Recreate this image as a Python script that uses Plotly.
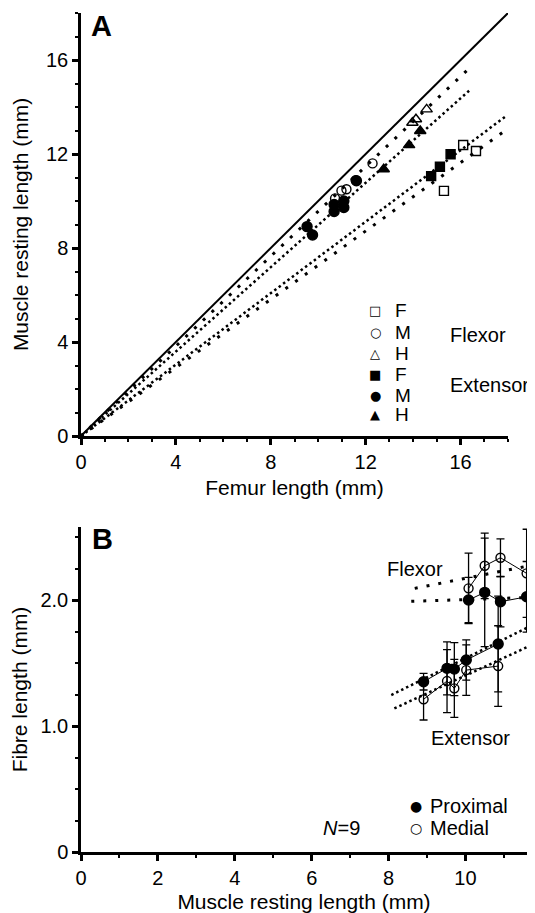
import plotly.graph_objects as go

# ---------------- Panel A data (femur length vs muscle resting length, mm) ----------------
flex_F_x = [16.11, 16.65, 15.30]
flex_F_y = [12.38, 12.13, 10.43]
flex_M_x = [10.71, 10.98, 11.19, 11.58, 12.29]
flex_M_y = [10.11, 10.44, 10.50, 10.89, 11.60]
flex_H_x = [13.97, 14.12, 14.57]
flex_H_y = [13.33, 13.48, 13.90]
ext_F_x = [14.76, 15.13, 15.58]
ext_F_y = [11.06, 11.46, 11.99]
ext_M_x = [9.53, 9.76, 10.67, 10.67, 11.08, 11.08, 11.61]
ext_M_y = [8.91, 8.55, 9.55, 9.85, 9.72, 10.00, 10.86]
ext_H_x = [12.76, 13.83, 14.30]
ext_H_y = [11.35, 12.38, 12.98]

# regressions through the origin (slope, x end) and the line of identity
fitA_slope = [0.956, 0.898, 0.760, 0.727]
fitA_xend = [16.46, 16.36, 17.91, 18.0]
fitA_flexor = [True, False, False, True]
identity_end = 18

# ---------------- Panel B data (muscle resting length vs fibre length) ----------------
ext_x = [8.91, 9.52, 9.71, 10.02, 10.85]
ext_prox_y = [1.352, 1.458, 1.452, 1.524, 1.651]
ext_prox_err = [0.066, 0.21, 0.21, 0.16, 0.38]
ext_med_y = [1.212, 1.357, 1.299, 1.444, 1.476]
ext_med_err = [0.164, 0.25, 0.23, 0.20, 0.32]
flx_x = [10.08, 10.50, 10.91, 11.59]
flx_prox_y = [2.000, 2.061, 1.987, 2.026]
flx_prox_err = [0.18, 0.43, 0.20, 0.28]
flx_med_y = [2.093, 2.272, 2.336, 2.212]
flx_med_err = [0.28, 0.26, 0.15, 0.35]

# regression line end points: (x0, y0, x1, y1)
fitB_ext_prox = [8.07, 1.246, 11.62, 1.783]
fitB_ext_med = [8.15, 1.140, 11.62, 1.629]
fitB_flx_med = [8.68, 2.093, 11.62, 2.270]
fitB_flx_prox = [8.59, 1.990, 11.62, 2.020]

# ---------------- layout geometry ----------------
# the page body has an 8 px margin, so the figure is drawn 8 px in from the window edge
OFF = 8
W, H = 535 - OFF, 913 - OFF
L, R, T, B = 81 - OFF, 0, 13 - OFF, 61
FONT = "Liberation Sans, Arial, Helvetica, sans-serif"
TITLE_SIZE = 21


def pxx(px):  # window pixel -> paper x
    return (px - OFF - L) / (W - L - R)


def pxy(py):  # window pixel -> paper y
    return (H - B - (py - OFF)) / (H - T - B)


fig = go.Figure()

FLEX_DASH = "3px,9px"
EXT_DASH = "2.5px,3px"

# identity line
fig.add_trace(go.Scatter(x=[0, identity_end], y=[0, identity_end], mode="lines",
                         line=dict(color="black", width=2), xaxis="x", yaxis="y",
                         showlegend=False, hoverinfo="skip"))
for s, xe, fl in zip(fitA_slope, fitA_xend, fitA_flexor):
    fig.add_trace(go.Scatter(x=[0, xe], y=[0, s * xe], mode="lines",
                             line=dict(color="black", width=3 if fl else 2.5,
                                       dash=FLEX_DASH if fl else EXT_DASH),
                             xaxis="x", yaxis="y", showlegend=False, hoverinfo="skip"))


def pts(x, y, sym, size, ax="x", ay="y"):
    fig.add_trace(go.Scatter(x=x, y=y, mode="markers", xaxis=ax, yaxis=ay,
                             marker=dict(symbol=sym, size=size, color="black",
                                         line=dict(color="black", width=1.4)),
                             showlegend=False, cliponaxis=False))


pts(flex_F_x, flex_F_y, "square-open", 9)
pts(flex_M_x, flex_M_y, "circle-open", 9)
pts(flex_H_x, flex_H_y, "triangle-up-open", 10)
pts(ext_F_x, ext_F_y, "square", 9)
pts(ext_M_x, ext_M_y, "circle", 10)
pts(ext_H_x, ext_H_y, "triangle-up", 10)

# ---------------- Panel B traces ----------------
for seg, fl in [(fitB_ext_prox, False), (fitB_ext_med, False),
                (fitB_flx_med, True), (fitB_flx_prox, True)]:
    fig.add_trace(go.Scatter(x=[seg[0], seg[2]], y=[seg[1], seg[3]], mode="lines",
                             line=dict(color="black", width=3 if fl else 2.5,
                                       dash=FLEX_DASH if fl else EXT_DASH),
                             xaxis="x2", yaxis="y2", showlegend=False, hoverinfo="skip"))


def series(x, y, err, filled):
    fig.add_trace(go.Scatter(
        x=x, y=y, mode="lines+markers", xaxis="x2", yaxis="y2", showlegend=False,
        cliponaxis=False,
        line=dict(color="black", width=1),
        marker=dict(symbol="circle" if filled else "circle-open", size=10 if filled else 9,
                    color="black", line=dict(color="black", width=1.4)),
        error_y=dict(type="data", array=err, visible=True, color="black",
                     thickness=1.3, width=4)))


series(ext_x, ext_med_y, ext_med_err, False)
series(ext_x, ext_prox_y, ext_prox_err, True)
series(flx_x, flx_med_y, flx_med_err, False)
series(flx_x, flx_prox_y, flx_prox_err, True)

axis_common = dict(showline=True, linecolor="black", linewidth=2.5, ticks="outside",
                   ticklen=6, tickwidth=2.5, tickcolor="black", showgrid=False,
                   zeroline=False, tickfont=dict(family=FONT, size=20, color="black"),
                   mirror=False)

fig.update_layout(
    width=W, height=H, margin=dict(l=L, r=R, t=T, b=B),
    paper_bgcolor="white", plot_bgcolor="white",
    font=dict(family=FONT, size=20, color="black"),
    xaxis=dict(domain=[0, pxx(508)], range=[0, 18], tickvals=[0, 4, 8, 12, 16],
               minor=dict(ticks="outside", dtick=1, ticklen=3, tickwidth=2, tickcolor="black"),
               title=dict(text="Femur length (mm)", font=dict(size=TITLE_SIZE), standoff=9),
               anchor="y", **axis_common),
    yaxis=dict(domain=[pxy(436), 1], range=[0, 18], tickvals=[0, 4, 8, 12, 16],
               minor=dict(ticks="outside", dtick=1, ticklen=3, tickwidth=2, tickcolor="black"),
               title=dict(text="Muscle resting length (mm)", font=dict(size=TITLE_SIZE),
                          standoff=12),
               anchor="x", **axis_common),
    xaxis2=dict(domain=[0, pxx(527)], range=[0, 11.6], tickvals=[0, 2, 4, 6, 8, 10],
                minor=dict(ticks="outside", dtick=1, ticklen=3, tickwidth=2, tickcolor="black"),
                title=dict(text="Muscle resting length (mm)", font=dict(size=TITLE_SIZE),
                           standoff=7),
                anchor="y2", **axis_common),
    yaxis2=dict(domain=[0, pxy(527)], range=[0, 2.58], tickvals=[0, 1, 2],
                ticktext=["0", "1.0", "2.0"],
                minor=dict(ticks="outside", dtick=0.25, ticklen=3, tickwidth=2, tickcolor="black"),
                title=dict(text="Fibre length (mm)", font=dict(size=TITLE_SIZE), standoff=8),
                anchor="x2", **axis_common),
)


def note(text, px, py, size=20, xanchor="center", family=FONT):
    fig.add_annotation(text=text, x=pxx(px), y=pxy(py), xref="paper", yref="paper",
                       xanchor=xanchor, yanchor="middle", showarrow=False,
                       font=dict(family=family, size=size, color="black"))


note("<b>A</b>", 101, 26, size=29)
note("<b>B</b>", 102, 539, size=29)

legA_sym = ["□", "○", "△", "■", "●", "▲"]
legA_lab = ["F", "M", "H", "F", "M", "H"]
legA_rows = [311, 332, 353, 374, 395, 415]
for s, lab, ry in zip(legA_sym, legA_lab, legA_rows):
    note(s, 375, ry, size=13, family="DejaVu Sans")
    note(lab, 393, ry, size=19, xanchor="left")
note("Flexor", 448, 335, xanchor="left")
note("Extensor", 448, 385, xanchor="left")

note("Flexor", 415, 569)
note("Extensor", 470, 738)
note("●", 416, 806, size=14, family="DejaVu Sans")
note("Proximal", 428, 806, xanchor="left")
note("○", 416, 828, size=14, family="DejaVu Sans")
note("Medial", 428, 828, xanchor="left")
note("<i>N</i>=9", 341, 828)

fig.write_html("out.html")
